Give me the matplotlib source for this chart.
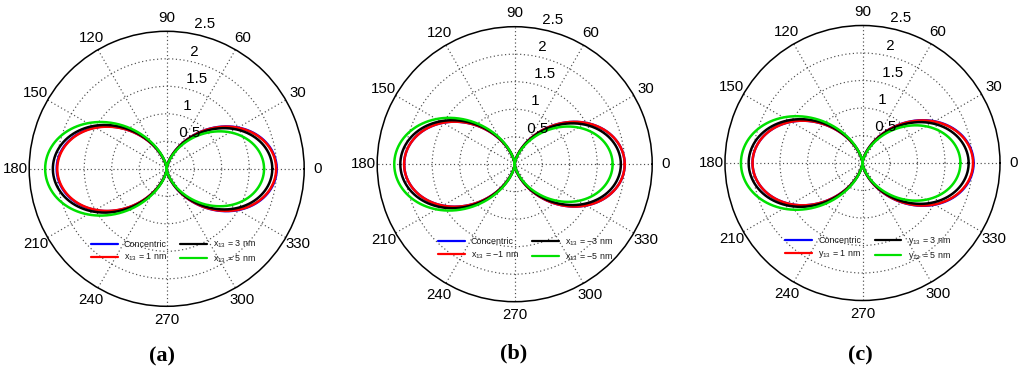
import numpy as np
import matplotlib
matplotlib.use("Agg")
import matplotlib.pyplot as plt

plt.rcParams['font.family'] = ['Liberation Sans', 'DejaVu Sans']
plt.rcParams['mathtext.fontset'] = 'custom'
plt.rcParams['mathtext.rm'] = 'Liberation Sans'
plt.rcParams['mathtext.default'] = 'regular'

# ---- data ----
panel_captions = ['(a)', '(b)', '(c)']
series_colors = ['#0000ff', '#ff0000', '#000000', '#00e000']

labels_a = ['Concentric', 'x$_{13}$ = 1 nm', 'x$_{13}$ = 3 nm', 'x$_{13}$ = 5 nm']
labels_b = ['Concentric', 'x$_{13}$ = \u22121 nm', 'x$_{13}$ = \u22123 nm', 'x$_{13}$ = \u22125 nm']
labels_c = ['Concentric', 'y$_{13}$ = 1 nm', 'y$_{13}$ = 3 nm', 'y$_{13}$ = 5 nm']

# lobe amplitude toward 0 deg (forward) and toward 180 deg (backward)
forward_a = [2.00, 1.99, 1.92, 1.77]
backward_a = [2.00, 1.99, 2.07, 2.21]
forward_b = [2.00, 2.00, 1.93, 1.78]
backward_b = [2.01, 2.01, 2.08, 2.19]
forward_c = [2.02, 2.01, 1.93, 1.78]
backward_c = [2.00, 2.00, 2.07, 2.21]

r_ticks = [0.5, 1.0, 1.5, 2.0, 2.5]
theta_ticks = [0, 30, 60, 90, 120, 150, 180, 210, 240, 270, 300, 330]
r_max = 2.5

# ---- layout (pixels) ----
W, H = 1024, 368
centers = [(166.7, 168.8), (514.7, 164.2), (862.5, 163.0)]
radius_px = 137.5
legend_anchor = [(0.525, 0.198), (0.54, 0.19), (0.52, 0.19)]
caption_pos = [(161.7, 356.0), (514.0, 353.0), (860.0, 355.0)]

fig = plt.figure(figsize=(W / 100, H / 100), dpi=100)

panels = [(labels_a, forward_a, backward_a),
          (labels_b, forward_b, backward_b),
          (labels_c, forward_c, backward_c)]

theta = np.linspace(0, 2 * np.pi, 1441)
c = np.cos(theta)

for k, (labels, fwd, bwd) in enumerate(panels):
    cx, cy = centers[k]
    ax = fig.add_axes([(cx - radius_px) / W, (H - cy - radius_px) / H,
                       2 * radius_px / W, 2 * radius_px / H], projection='polar')
    ax.set_ylim(0, r_max)
    ax.set_rticks(r_ticks[:-1])
    ax.set_thetagrids(theta_ticks)
    ax.set_xticklabels([])
    ax.set_yticklabels([])
    ax.grid(True, color='0.3', linestyle=(0, (1, 2.2)), linewidth=0.85)
    ax.set_axisbelow(True)
    ax.spines['polar'].set_linewidth(1.1)
    ax.spines['polar'].set_color('black')
    ax.tick_params(length=0)

    handles = []
    for i in range(4):
        amp = np.where(c >= 0, fwd[i], bwd[i])
        r = amp * c ** 2
        h, = ax.plot(theta, r, color=series_colors[i], linewidth=1.8,
                     label=labels[i], solid_capstyle='round')
        handles.append(h)

    # angle labels
    for t in theta_ticks:
        ax.text(np.deg2rad(t), 1.1 * r_max, str(t), ha='center', va='center',
                fontsize=10.8, color='black')
    # radial labels (at 82 deg)
    for rt in r_ticks:
        txt = ('%g' % rt)
        ax.text(np.deg2rad(82), rt + 0.025, '  ' + txt, ha='left', va='bottom',
                fontsize=10.8, color='black')

    leg = ax.legend(handles=handles, ncol=2, loc='center',
                    bbox_to_anchor=legend_anchor[k], frameon=False,
                    fontsize=6.4, handlelength=3.0, handletextpad=0.7,
                    columnspacing=1.5, labelspacing=0.35)
    for line in leg.get_lines():
        line.set_linewidth(1.6)
    for t in leg.get_texts():
        t.set_color('0.1')

    fig.text(caption_pos[k][0] / W, 1 - caption_pos[k][1] / H, panel_captions[k],
             ha='center', va='center', fontsize=16, fontweight='bold',
             family=['Liberation Serif', 'DejaVu Serif'])

fig.savefig('out.png', dpi=100)
